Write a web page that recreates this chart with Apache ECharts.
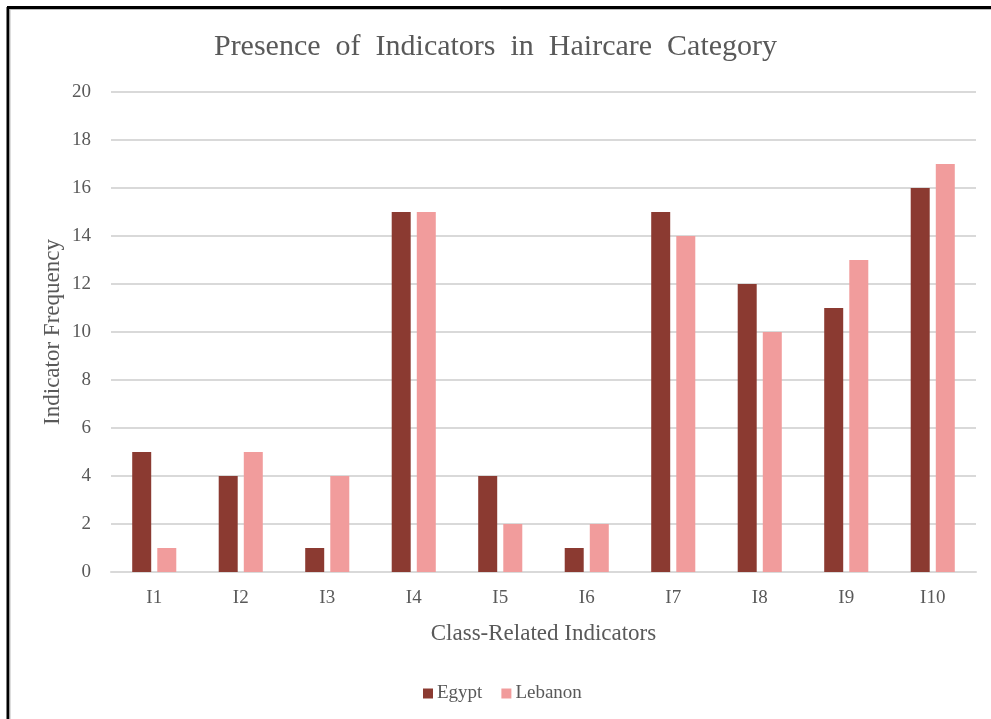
<!DOCTYPE html>
<html>
<head>
<meta charset="utf-8">
<script src="https://cdn.jsdelivr.net/npm/echarts@6/dist/echarts.min.js"></script>
<style>
html,body{margin:0;padding:0;background:#fff;}
#chart{width:991px;height:719px;}
</style>
</head>
<body>
<div id="chart"></div>
<script>
var categories = ['I1','I2','I3','I4','I5','I6','I7','I8','I9','I10'];
var egypt = [5,4,1,15,4,1,15,12,11,16];
var lebanon = [1,5,4,15,2,2,14,10,13,17];
var yTicks = {min:0, max:20, interval:2};

var serif = '"Liberation Serif","Times New Roman",serif';
var chart = echarts.init(document.getElementById('chart'));
chart.setOption({
  backgroundColor:'#fff',
  animation:false,
  title:{
    text:'Presence  of  Indicators  in  Haircare  Category',
    left:'center', top:27,
    textStyle:{fontFamily:serif, fontSize:30, fontWeight:'normal', color:'#595959'}
  },
  graphic:[
    {type:'line', shape:{x1:7, y1:7.5, x2:991, y2:7.5}, style:{stroke:'#000', lineWidth:3}},
    {type:'line', shape:{x1:8, y1:7, x2:8, y2:719}, style:{stroke:'#000', lineWidth:3}},
    {type:'line', shape:{x1:10, y1:9.5, x2:991, y2:9.5}, style:{stroke:'#bbb', lineWidth:1}},
    {type:'line', shape:{x1:10, y1:9, x2:10, y2:719}, style:{stroke:'#bbb', lineWidth:1}}
  ],
  legend:{
    data:['Egypt','Lebanon'],
    left:418, top:679,
    itemWidth:10, itemHeight:10, itemGap:19,
    icon:'rect',
    textStyle:{fontFamily:serif, fontSize:19, color:'#595959', padding:[0,0,0,-1]}
  },
  grid:{left:111, right:15, top:92, bottom:147, containLabel:false},
  xAxis:{
    type:'category', data:categories,
    axisLine:{lineStyle:{color:'#d9d9d9', width:2}},
    axisTick:{show:false},
    axisLabel:{fontFamily:serif, fontSize:19, color:'#595959', margin:17},
    name:'Class-Related Indicators', nameLocation:'middle', nameGap:50,
    nameTextStyle:{fontFamily:serif, fontSize:23, color:'#595959'}
  },
  yAxis:{
    type:'value', min:yTicks.min, max:yTicks.max, interval:yTicks.interval,
    axisLine:{show:false}, axisTick:{show:false},
    splitLine:{lineStyle:{color:'#d9d9d9', width:2}},
    axisLabel:{fontFamily:serif, fontSize:19, color:'#595959', margin:20},
    name:'Indicator Frequency', nameLocation:'middle', nameGap:47,
    nameMoveOverlap:false,
    nameTextStyle:{fontFamily:serif, fontSize:23, color:'#595959'}
  },
  series:[
    {name:'Egypt', type:'bar', data:egypt, barWidth:19, barGap:'32%',
     itemStyle:{color:'#8B3A31'}},
    {name:'Lebanon', type:'bar', data:lebanon, barWidth:19,
     itemStyle:{color:'#F19C9C'}}
  ]
});
</script>
</body>
</html>
